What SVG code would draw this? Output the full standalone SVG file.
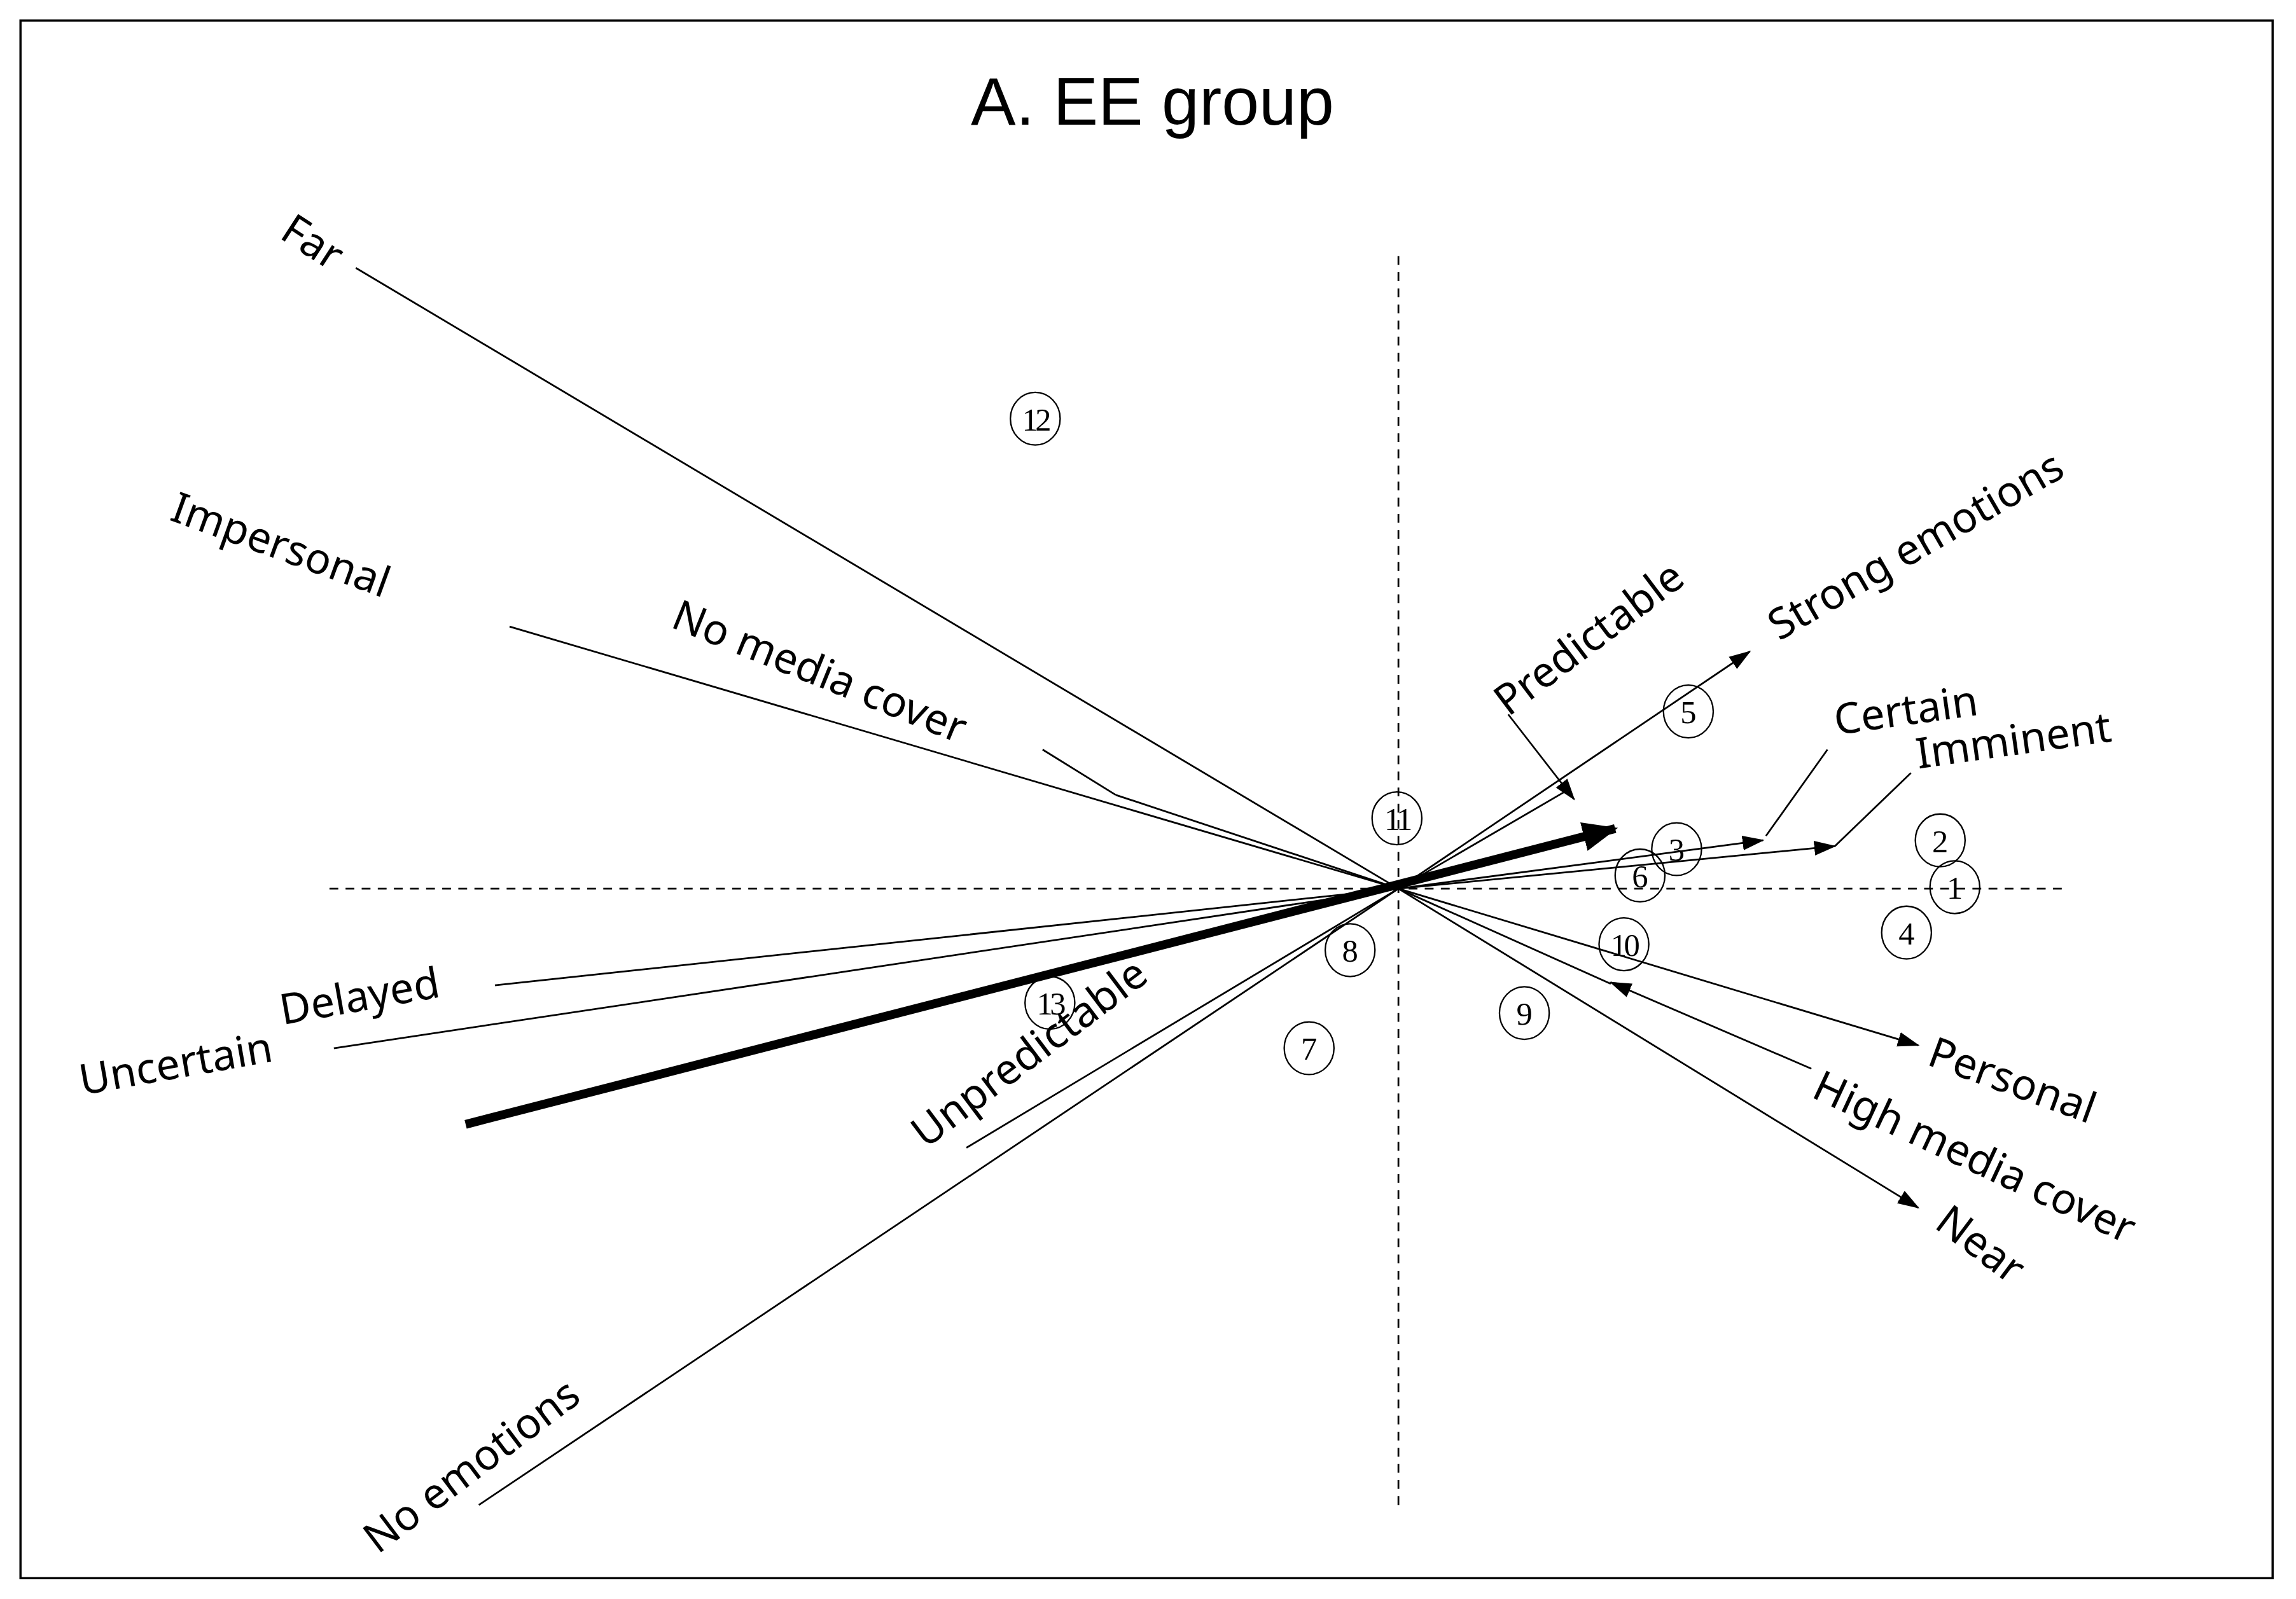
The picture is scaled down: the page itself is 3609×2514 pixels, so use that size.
<svg xmlns="http://www.w3.org/2000/svg" width="3609" height="2514" viewBox="0 0 3609 2514">
<style>
.ln{stroke:#000;stroke-width:1.2;fill:none}
.ds{stroke:#000;stroke-width:1.2;stroke-dasharray:6,5;fill:none}
.lb{font-family:"Noto Sans","Open Sans",sans-serif;font-size:29px;fill:#000}
.nc{fill:none;stroke:#000;stroke-width:1}
.nt{font-family:"Liberation Serif",serif;font-size:22px;text-anchor:middle;fill:#000}
</style>
<defs>
<marker id="ah" markerUnits="userSpaceOnUse" markerWidth="16" markerHeight="12" refX="14" refY="6" orient="auto"><path d="M0,1 L15,6 L0,11 Z" fill="#000"/></marker>
<marker id="ahb" markerUnits="userSpaceOnUse" markerWidth="24" markerHeight="20" refX="22" refY="10" orient="auto"><path d="M0,0 L24,10 L0,20 Z" fill="#000"/></marker>
</defs>
<rect width="3609" height="2514" fill="#fff"/>
<g transform="scale(2.3017)">
<rect x="14" y="14" width="1538" height="1064" fill="none" stroke="#000" stroke-width="1.5"/>
<text x="787" y="85" font-family="Liberation Sans,Arial,sans-serif" font-size="46" text-anchor="middle">A. EE group</text>
<g id="axes">
<line class="ds" x1="955" y1="175" x2="955" y2="1028"/>
<line class="ds" x1="225" y1="607" x2="1410" y2="607"/>
</g>
<g id="connectors">
<line class="ln" x1="243" y1="183" x2="955" y2="607"/>
<line class="ln" x1="348" y1="428" x2="955" y2="607"/>
<line class="ln" x1="712" y1="512" x2="762" y2="543"/>
<line class="ln" x1="762" y1="543" x2="955" y2="607"/>
<line class="ln" x1="338" y1="673" x2="955" y2="607"/>
<line class="ln" x1="228" y1="716" x2="955" y2="607"/>
<line x1="318" y1="768" x2="1103" y2="566" stroke="#000" stroke-width="6" marker-end="url(#ahb)"/>
<line class="ln" x1="660" y1="784" x2="955" y2="607"/>
<line class="ln" x1="327" y1="1028" x2="955" y2="607"/>
<line class="ln" x1="955" y1="607" x2="1070" y2="540"/>
<line class="ln" x1="1030" y1="488" x2="1075" y2="546" marker-end="url(#ah)"/>
<line class="ln" x1="955" y1="607" x2="1195" y2="445" marker-end="url(#ah)"/>
<line class="ln" x1="955" y1="607" x2="1204" y2="574" marker-end="url(#ah)"/>
<line class="ln" x1="1248" y1="512" x2="1206" y2="571"/>
<line class="ln" x1="955" y1="607" x2="1253" y2="578" marker-end="url(#ah)"/>
<line class="ln" x1="1305" y1="528" x2="1253" y2="578"/>
<line class="ln" x1="955" y1="607" x2="1310" y2="714" marker-end="url(#ah)"/>
<line class="ln" x1="955" y1="607" x2="1100" y2="672"/>
<line class="ln" x1="1237" y1="730" x2="1100" y2="671" marker-end="url(#ah)"/>
<line class="ln" x1="955" y1="607" x2="1310" y2="825" marker-end="url(#ah)"/>
</g>
<g id="labels">
<text class="lb" transform="translate(190,162) rotate(33)">Far</text>
<text class="lb" transform="translate(115,355) rotate(20)">Impersonal</text>
<text class="lb" transform="translate(457,428) rotate(22)">No media cover</text>
<text class="lb" transform="translate(193,700) rotate(-10)">Delayed</text>
<text class="lb" transform="translate(56,748) rotate(-10)">Uncertain</text>
<text class="lb" transform="translate(632,785) rotate(-37)">Unpredictable</text>
<text class="lb" transform="translate(258,1062) rotate(-37)">No emotions</text>
<text class="lb" transform="translate(1030,490) rotate(-37)">Predictable</text>
<text class="lb" transform="translate(1215,438) rotate(-30)">Strong emotions</text>
<text class="lb" transform="translate(1254,502) rotate(-8)">Certain</text>
<text class="lb" transform="translate(1310,525) rotate(-8)">Imminent</text>
<text class="lb" transform="translate(1315,727) rotate(20)">Personal</text>
<text class="lb" transform="translate(1236,749) rotate(25)">High media cover</text>
<text class="lb" transform="translate(1320,838) rotate(37)">Near</text>
</g>
<g id="n1"><ellipse class="nc" cx="1335" cy="606" rx="17" ry="18"/><text class="nt" x="1335" y="614">1</text></g>
<g id="n2"><ellipse class="nc" cx="1325" cy="574" rx="17" ry="18"/><text class="nt" x="1325" y="582">2</text></g>
<g id="n3"><ellipse class="nc" cx="1145" cy="580" rx="17" ry="18"/><text class="nt" x="1145" y="588">3</text></g>
<g id="n4"><ellipse class="nc" cx="1302" cy="637" rx="17" ry="18"/><text class="nt" x="1302" y="645">4</text></g>
<g id="n5"><ellipse class="nc" cx="1153" cy="486" rx="17" ry="18"/><text class="nt" x="1153" y="494">5</text></g>
<g id="n6"><ellipse class="nc" cx="1120" cy="598" rx="17" ry="18"/><text class="nt" x="1120" y="606">6</text></g>
<g id="n7"><ellipse class="nc" cx="894" cy="716" rx="17" ry="18"/><text class="nt" x="894" y="724">7</text></g>
<g id="n8"><ellipse class="nc" cx="922" cy="649" rx="17" ry="18"/><text class="nt" x="922" y="657">8</text></g>
<g id="n9"><ellipse class="nc" cx="1041" cy="692" rx="17" ry="18"/><text class="nt" x="1041" y="700">9</text></g>
<g id="n10"><ellipse class="nc" cx="1109" cy="645" rx="17" ry="18"/><text class="nt" x="1109" y="653" letter-spacing="-2">10</text></g>
<g id="n11"><ellipse class="nc" cx="954" cy="559" rx="17" ry="18"/><text class="nt" x="954" y="567" letter-spacing="-2">11</text></g>
<g id="n12"><ellipse class="nc" cx="707" cy="286" rx="17" ry="18"/><text class="nt" x="707" y="294" letter-spacing="-2">12</text></g>
<g id="n13"><ellipse class="nc" cx="717" cy="685" rx="17" ry="18"/><text class="nt" x="717" y="693" letter-spacing="-2">13</text></g>
</g>
</svg>
